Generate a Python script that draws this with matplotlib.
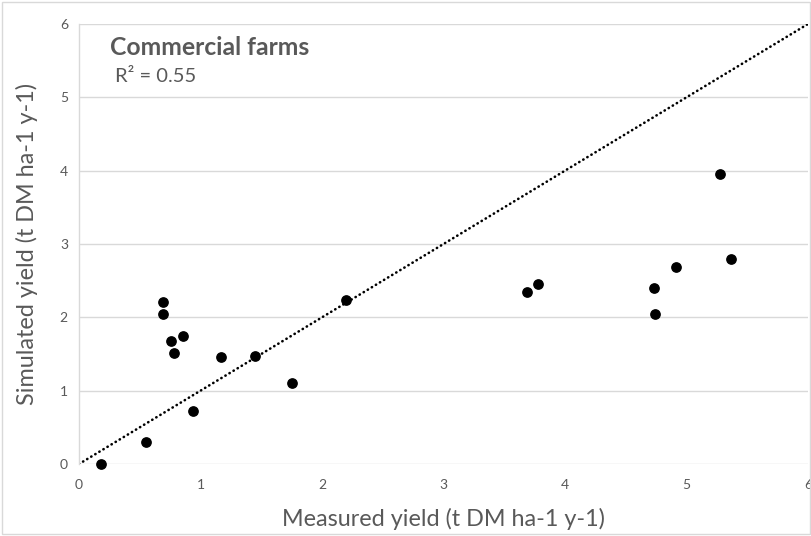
import matplotlib
matplotlib.use('Agg')
import matplotlib.pyplot as plt
from matplotlib.patches import Rectangle

# Measured vs simulated yield, commercial farms (t DM ha-1 y-1)
measured = [0.18, 0.55, 0.69, 0.69, 0.76, 0.78, 0.86, 0.94, 1.17, 1.45, 1.75,
            2.20, 3.69, 3.78, 4.73, 4.74, 4.91, 5.28, 5.37]
simulated = [0.00, 0.30, 2.21, 2.04, 1.68, 1.52, 1.74, 0.72, 1.46, 1.47, 1.10,
             2.23, 2.35, 2.45, 2.40, 2.04, 2.68, 3.96, 2.79]
one_to_one = [0, 6]
ticks = [0, 1, 2, 3, 4, 5, 6]

title = 'Commercial farms'
r2_text = 'R² = 0.55'
xlabel = 'Measured yield (t DM ha-1 y-1)'
ylabel = 'Simulated yield (t DM ha-1 y-1)'

plt.rcParams['font.family'] = ['Lato', 'DejaVu Sans']
gray_text = '#595959'
grid_col = '#d9d9d9'

fig = plt.figure(figsize=(8.12, 5.36), dpi=100)
ax = fig.add_axes([0.0973, 0.1343, 0.8977, 0.8209])

ax.grid(True, axis='y', color=grid_col, linewidth=1.0)
ax.set_axisbelow(True)

ax.plot(one_to_one, one_to_one, color='black', linewidth=1.9,
        linestyle=(0, (0.1, 1.7)), dash_capstyle='round', zorder=2)
ax.scatter(measured, simulated, s=45, color='black', zorder=3, clip_on=False)

ax.set_xlim(0, 6)
ax.set_ylim(0, 6)
ax.set_xticks(ticks)
ax.set_yticks(ticks)
ax.tick_params(length=0, labelsize=10, colors=gray_text, pad=8)
ax.tick_params(axis='x', pad=11)

for side in ['top', 'right', 'bottom']:
    ax.spines[side].set_visible(False)
ax.spines['left'].set_color(grid_col)
ax.spines['left'].set_linewidth(1.0)

ax.set_xlabel(xlabel, fontsize=16.8, color=gray_text, labelpad=12)
ax.set_ylabel(ylabel, fontsize=16.8, color=gray_text, labelpad=16)

ax.text(0.042, 0.947, title, transform=ax.transAxes, fontsize=17.8,
        fontweight='bold', color=gray_text, va='center', ha='left')
ax.text(0.049, 0.88, r2_text, transform=ax.transAxes, fontsize=14.5,
        color=gray_text, va='center', ha='left')

# light chart border like the spreadsheet chart area
fig.patches.append(Rectangle((0.002, 0.003), 0.996, 0.994, transform=fig.transFigure,
                             fill=False, edgecolor=grid_col, linewidth=1.0))

fig.savefig('out.png', dpi=100)
